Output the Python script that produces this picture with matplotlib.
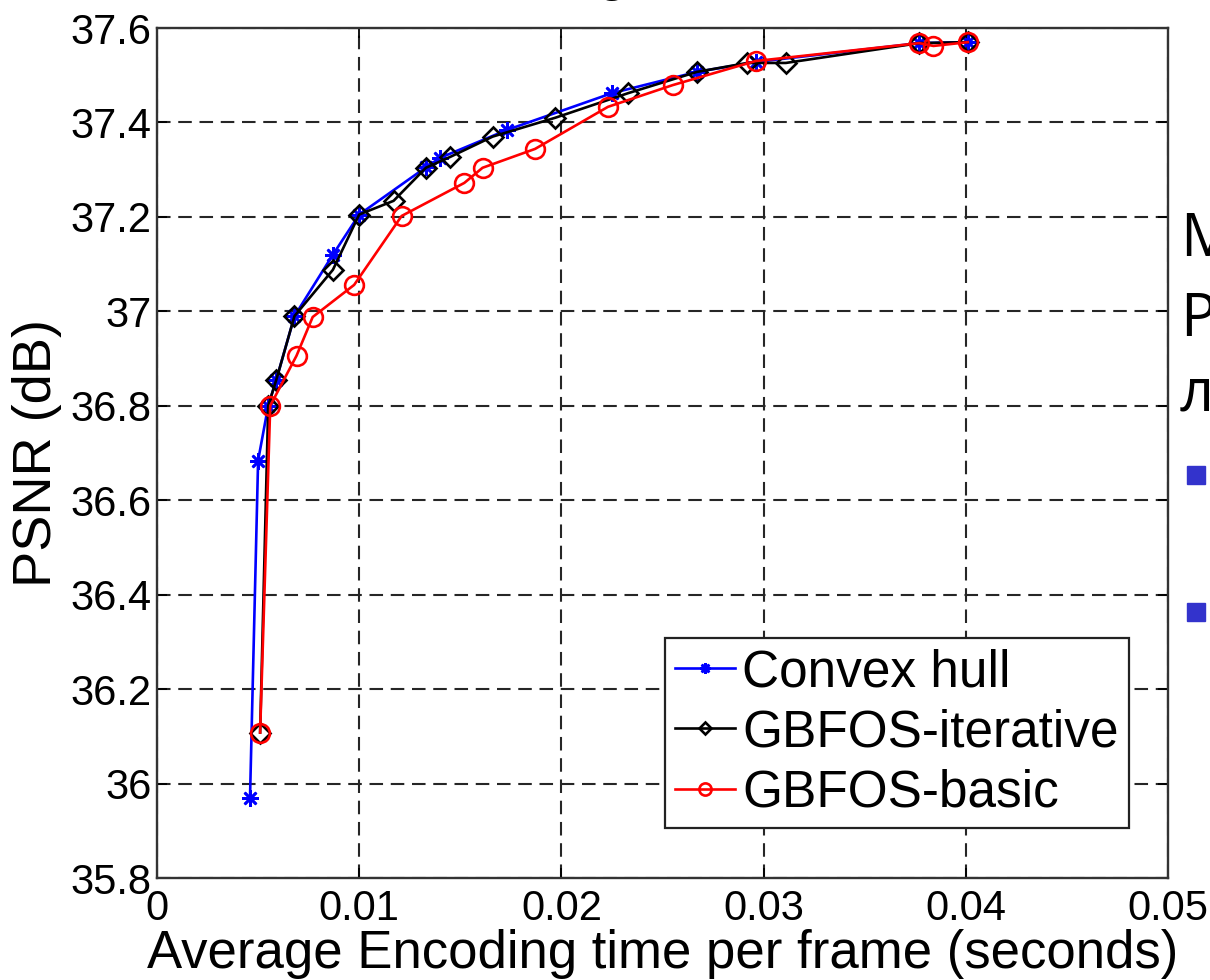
import matplotlib
matplotlib.use("Agg")
import matplotlib.pyplot as plt
from matplotlib.patches import Rectangle

# Rate-distortion style curves: PSNR vs average encoding time per frame
hull_t = [0.0046, 0.0050, 0.0055, 0.0059, 0.0068, 0.0087, 0.0100, 0.0133,
          0.0140, 0.0173, 0.0225, 0.0267, 0.0296, 0.0377, 0.0401]
hull_psnr = [35.97, 36.684, 36.80, 36.855, 36.99, 37.12, 37.205, 37.305,
             37.325, 37.384, 37.462, 37.507, 37.528, 37.568, 37.570]

iter_t = [0.0051, 0.0055, 0.0059, 0.0068, 0.0087, 0.0100, 0.0117, 0.0133,
          0.0145, 0.0166, 0.0197, 0.0233, 0.0267, 0.0292, 0.0311, 0.0377, 0.0401]
iter_psnr = [36.108, 36.80, 36.855, 36.99, 37.088, 37.205, 37.234, 37.304,
             37.327, 37.37, 37.41, 37.462, 37.507, 37.526, 37.526, 37.568, 37.570]

basic_t = [0.0051, 0.0056, 0.0069, 0.0077, 0.00975, 0.0121, 0.0152, 0.0161,
           0.0187, 0.0223, 0.0255, 0.0296, 0.0377, 0.0384, 0.0401]
basic_psnr = [36.108, 36.80, 36.906, 36.988, 37.056, 37.202, 37.272, 37.304,
              37.344, 37.433, 37.479, 37.530, 37.568, 37.562, 37.570]

series_labels = ["Convex hull", "GBFOS-iterative", "GBFOS-basic"]

x_ticks = [0, 0.01, 0.02, 0.03, 0.04, 0.05]
x_tick_labels = ["0", "0.01", "0.02", "0.03", "0.04", "0.05"]
y_ticks = [35.8, 36.0, 36.2, 36.4, 36.6, 36.8, 37.0, 37.2, 37.4, 37.6]
y_tick_labels = ["35.8", "36", "36.2", "36.4", "36.6", "36.8", "37", "37.2", "37.4", "37.6"]

plt.rcParams["font.family"] = ["Liberation Sans", "DejaVu Sans"]

W, H = 1210, 980
fig = plt.figure(figsize=(W / 100, H / 100), dpi=100)
fig.patch.set_facecolor("white")
ax = fig.add_axes([157 / W, 1 - 878 / H, (1168 - 157) / W, (878 - 28) / H])

ax.plot(hull_t, hull_psnr, color="#0000FF", lw=1.9, marker=(8, 2, 0),
        ms=12, mew=1.9, label=series_labels[0], zorder=3)
ax.plot(iter_t, iter_psnr, color="black", lw=1.9, marker="D", ms=10,
        mfc="none", mew=1.9, label=series_labels[1], zorder=4)
ax.plot(basic_t, basic_psnr, color="#FF0000", lw=1.9, marker="o", ms=13.5,
        mfc="none", mew=1.9, label=series_labels[2], zorder=5)

ax.set_xlim(0, 0.05)
ax.set_ylim(35.8, 37.6)
ax.set_xticks(x_ticks)
ax.set_xticklabels(x_tick_labels)
ax.set_yticks(y_ticks)
ax.set_yticklabels(y_tick_labels)

ax.grid(True, color="#262626", lw=1.5, linestyle=(0, (6.5, 3.7)))
ax.tick_params(direction="in", length=7, width=1.3, top=True, right=True,
               labelsize=30, colors="black", pad=4)
ax.tick_params(axis="x", pad=8)
for sp in ax.spines.values():
    sp.set_color("#333333")
    sp.set_linewidth(1.7)

ax.set_xlabel("Average Encoding time per frame (seconds)", fontsize=38, labelpad=0)
ax.set_ylabel("PSNR (dB)", fontsize=39, labelpad=6)

leg = ax.legend(loc="lower right", bbox_to_anchor=(1129 / W, 1 - 828 / H),
                bbox_transform=fig.transFigure, borderaxespad=0, fontsize=37,
                handlelength=1.15, handletextpad=0.15, labelspacing=0.22,
                borderpad=0.2, markerscale=0.65, fancybox=False, framealpha=1)
leg.get_frame().set_edgecolor("#222222")
leg.get_frame().set_linewidth(1.6)

# Slide text running off the right edge
side_font = ["Open Sans", "DejaVu Sans"]
fig.text(1180 / W, 1 - 256 / H, "М", fontsize=43, family=side_font, va="baseline")
fig.text(1180 / W, 1 - 336 / H, "Р", fontsize=43, family=side_font, va="baseline")
fig.text(1180 / W, 1 - 410 / H, "л", fontsize=43, family=side_font, va="baseline")
for top in (466, 603):
    fig.patches.append(Rectangle((1187 / W, 1 - (top + 18) / H), 18 / W, 18 / H,
                                 transform=fig.transFigure, color="#3333CC"))

# Descender of the slide title just above the top edge
fig.text(612 / W, 1 + 11 / H, "g", fontsize=40, ha="center", va="baseline")

fig.savefig("out.png", dpi=100, facecolor="white")
